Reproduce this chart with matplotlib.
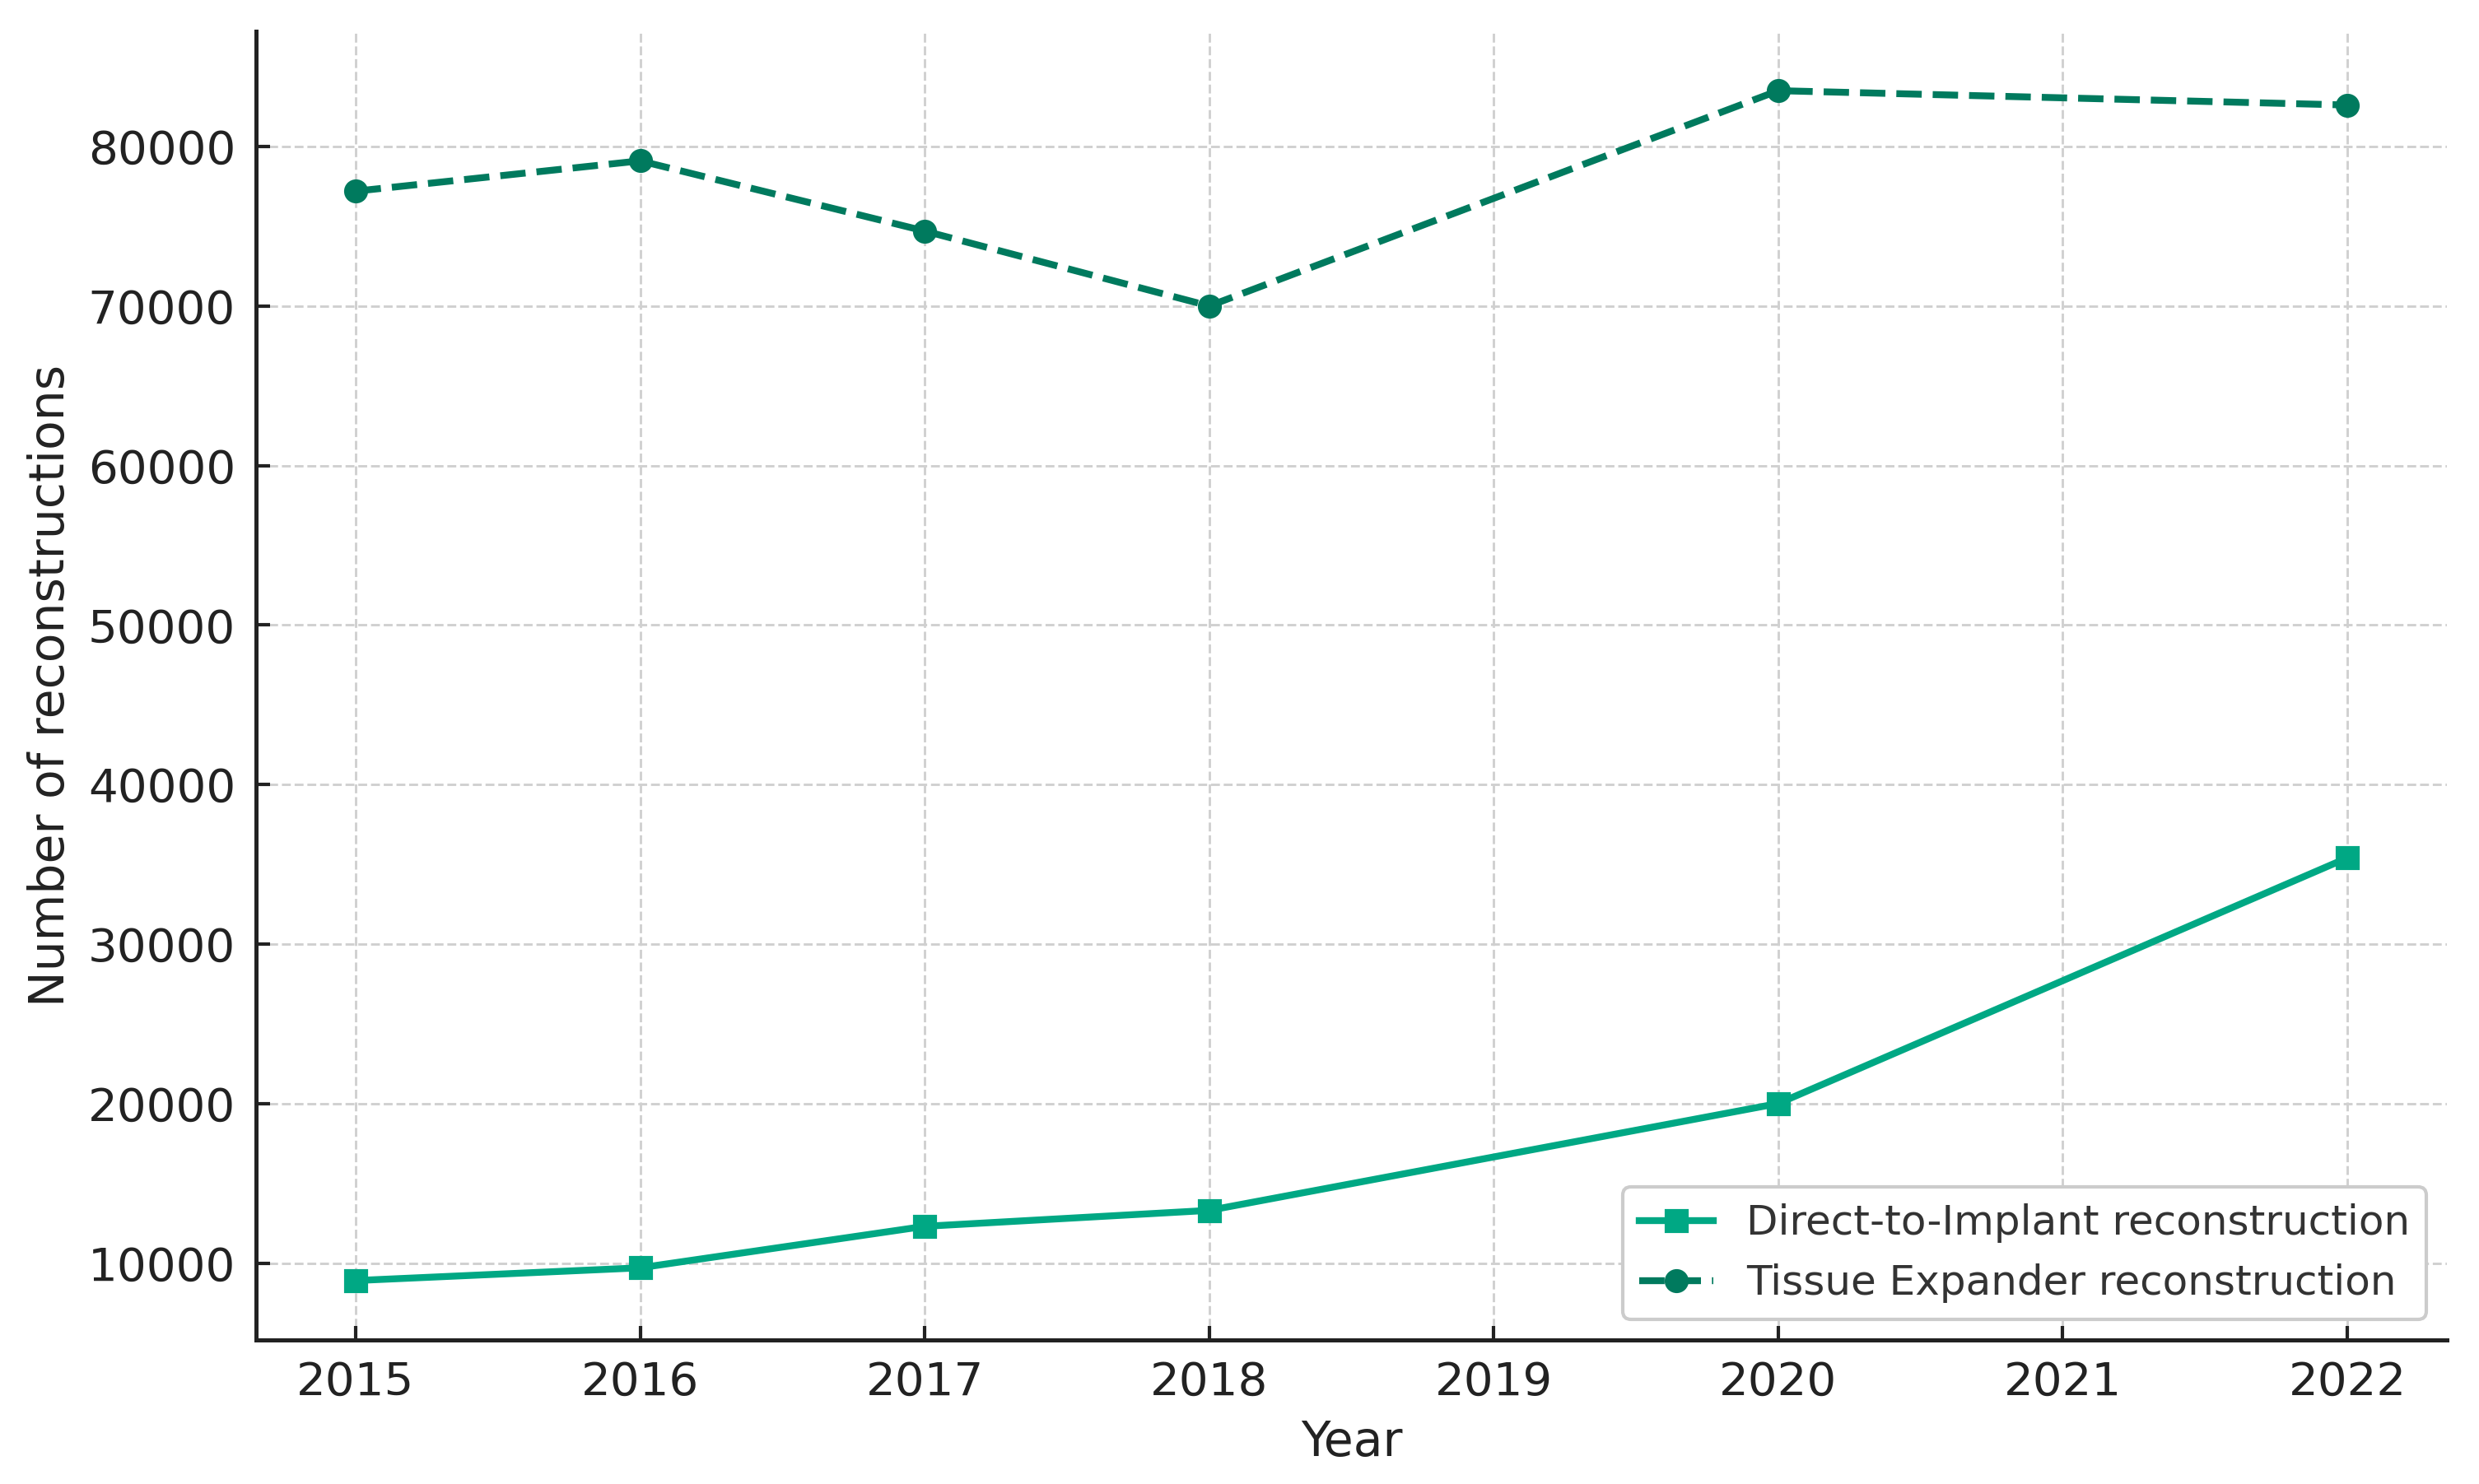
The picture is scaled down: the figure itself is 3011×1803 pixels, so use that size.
import matplotlib
matplotlib.use("Agg")
import matplotlib.pyplot as plt

years = [2015, 2016, 2017, 2018, 2020, 2022]
dti = [8900, 9700, 12300, 13300, 20000, 35400]
te = [77200, 79100, 74700, 70000, 83500, 82600]
xticks = [2015, 2016, 2017, 2018, 2019, 2020, 2021, 2022]

plt.rcParams['font.family'] = ['DejaVu Sans']
fig = plt.figure(figsize=(10.037, 6.01), dpi=300)
ax = fig.add_axes([0.1033, 0.097, 0.8837, 0.882])

ax.plot(years, dti, color='#00a884', linestyle='-', marker='s', linewidth=2,
        markersize=6, label='Direct-to-Implant reconstruction')
ax.plot(years, te, color='#007a5e', linestyle='--', marker='o', linewidth=2,
        markersize=6, label='Tissue Expander reconstruction')

ax.set_xticks(xticks)
ax.set_xlabel('Year', fontsize=14, color='#222222')
ax.set_ylabel('Number of reconstructions', fontsize=14, color='#222222')
ax.tick_params(axis='both', direction='in', length=4, width=1, labelsize=13.5,
               colors='#222222', pad=6)
ax.grid(True, linestyle='--', color='#d0d0d0', linewidth=0.7)
ax.set_axisbelow(True)
for s in ['top', 'right']:
    ax.spines[s].set_visible(False)
for s in ['left', 'bottom']:
    ax.spines[s].set_linewidth(1.2)
    ax.spines[s].set_color('#222222')

leg = ax.legend(loc='lower right', fontsize=12, frameon=True, fancybox=True,
                edgecolor='#cccccc', framealpha=1.0, handlelength=1.8)
for t in leg.get_texts():
    t.set_color('#333333')

fig.savefig('out.png', dpi=300)
